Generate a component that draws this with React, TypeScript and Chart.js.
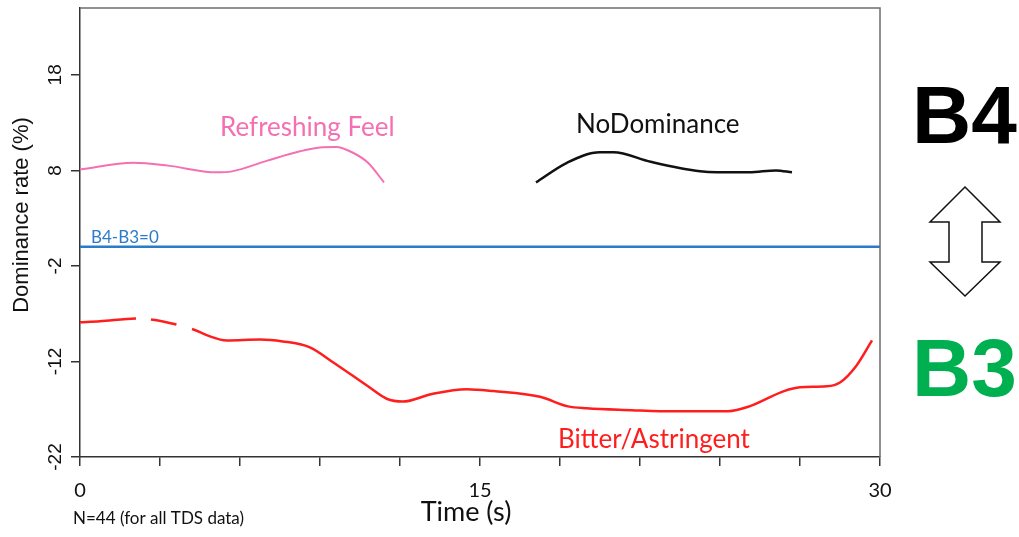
import React, { useEffect, useRef } from 'react';
import { Chart, registerables } from 'chart.js';

Chart.register(...registerables);

// Dominance rate curves (time in s, rate in %)
const refreshingTime = [0, 2.0, 3.3, 5.1, 5.7, 7.0, 8.25, 9.0, 9.6, 10.2, 10.8, 11.4];
const refreshingRate = [8.1, 8.8, 8.5, 7.8, 7.9, 9.0, 10.0, 10.4, 10.45, 9.9, 8.8, 6.75];

const noDominanceTime = [17.1, 18.26, 19.5, 20.0, 21.4, 23.25, 23.9, 25.1, 26.1, 26.7];
const noDominanceRate = [6.75, 8.8, 9.9, 9.9, 8.9, 7.9, 7.8, 7.8, 8.0, 7.8];

const bitterTime = [0, 0.75, 2.1, 4.2, 4.8, 5.5, 6.75, 7.6, 8.6, 9.5, 10.8, 11.5, 12.1, 13.2, 14.5, 15.5, 17.25, 18.3, 19.0, 20.7, 21.75, 24.3, 25.1, 26.4, 27.0, 28.0, 28.5, 29.1, 29.7];
const bitterRate = [-7.9, -7.8, -7.5, -8.6, -9.3, -9.8, -9.7, -9.9, -10.5, -12.1, -14.6, -15.9, -16.2, -15.4, -14.9, -15.1, -15.7, -16.7, -16.9, -17.1, -17.2, -17.2, -16.7, -15.1, -14.7, -14.6, -14.2, -12.5, -9.8];
// the stretch of the bitter curve starting here is drawn broken
const bitterBrokenFrom = 2.1;

// B4 - B3 = 0 reference line
const baselineTime = [0, 30];
const baselineRate = [0, 0];

const xTickValues = [0, 3, 6, 9, 12, 15, 18, 21, 24, 27, 30];
const xLabelledTicks = [0, 15, 30];
const yTickValues = [-22, -12, -2, 8, 18];

const toPoints = (xs: number[], ys: number[]) => xs.map((x, i) => ({ x, y: ys[i] }));

const PINK = '#F56FB3';
const RED = '#FF1E1E';
const BLUE = '#2C7BCB';
const GREEN = '#00B050';

const overlay = {
  id: 'overlay',
  afterDraw(chart: any) {
    const { ctx, chartArea: a } = chart;
    const yScale = chart.scales.y;
    ctx.save();

    // top and right edges of the plot frame
    ctx.strokeStyle = '#6e6e6e';
    ctx.lineWidth = 1.5;
    ctx.beginPath();
    ctx.moveTo(a.left, a.top);
    ctx.lineTo(a.right, a.top);
    ctx.lineTo(a.right, a.bottom);
    ctx.stroke();

    // rotated y tick labels, read bottom to top
    ctx.fillStyle = '#111';
    ctx.font = '19px "Liberation Sans"';
    ctx.textAlign = 'center';
    ctx.textBaseline = 'middle';
    for (const t of yScale.ticks) {
      const py = yScale.getPixelForValue(t.value);
      ctx.save();
      ctx.translate(a.left - 24, py);
      ctx.rotate(-Math.PI / 2);
      ctx.fillText(String(t.value), 0, 0);
      ctx.restore();
    }

    // curve labels
    ctx.font = '26px Lato';
    ctx.fillStyle = PINK;
    ctx.textAlign = 'left';
    ctx.fillText('Refreshing Feel', 220, 128);
    ctx.fillStyle = '#111';
    ctx.fillText('NoDominance', 576, 125);
    ctx.fillStyle = RED;
    ctx.fillText('Bitter/Astringent', 558, 440);

    ctx.font = '17px Lato';
    ctx.fillStyle = BLUE;
    ctx.fillText('B4-B3=0', 91, 238);

    // axis titles and note
    ctx.fillStyle = '#111';
    ctx.font = '27px Lato';
    ctx.textAlign = 'center';
    ctx.fillText('Time (s)', 466, 512);

    ctx.font = '17px Lato';
    ctx.textAlign = 'left';
    ctx.fillText('N=44 (for all TDS data)', 73, 519);

    ctx.save();
    ctx.translate(22, 215);
    ctx.rotate(-Math.PI / 2);
    ctx.textAlign = 'center';
    ctx.font = '22px "Liberation Sans"';
    ctx.fillText('Dominance rate (%)', 0, 0);
    ctx.restore();

    // B4 / B3 side legend
    ctx.textBaseline = 'alphabetic';
    ctx.textAlign = 'left';
    ctx.font = 'bold 82px "Liberation Sans"';
    ctx.fillStyle = '#000';
    ctx.fillText('B4', 912, 143);
    ctx.fillStyle = GREEN;
    ctx.fillText('B3', 912, 396);

    // double-headed outline arrow
    ctx.beginPath();
    ctx.moveTo(965, 187);
    ctx.lineTo(1000, 222);
    ctx.lineTo(982, 222);
    ctx.lineTo(982, 262);
    ctx.lineTo(1000, 262);
    ctx.lineTo(965, 296);
    ctx.lineTo(930, 262);
    ctx.lineTo(949, 262);
    ctx.lineTo(949, 222);
    ctx.lineTo(930, 222);
    ctx.closePath();
    ctx.fillStyle = '#fff';
    ctx.fill();
    ctx.strokeStyle = '#111';
    ctx.lineWidth = 1.5;
    ctx.lineJoin = 'miter';
    ctx.stroke();

    ctx.restore();
  },
};

export default function App() {
  const canvasRef = useRef<HTMLCanvasElement | null>(null);

  useEffect(() => {
    if (!canvasRef.current) return;
    const chart = new Chart(canvasRef.current, {
      type: 'line',
      data: {
        datasets: [
          {
            label: 'B4-B3=0',
            data: toPoints(baselineTime, baselineRate),
            borderColor: BLUE,
            borderWidth: 2.5,
            pointRadius: 0,
          },
          {
            label: 'Refreshing Feel',
            data: toPoints(refreshingTime, refreshingRate),
            borderColor: PINK,
            borderWidth: 2,
            pointRadius: 0,
            cubicInterpolationMode: 'monotone',
          },
          {
            label: 'NoDominance',
            data: toPoints(noDominanceTime, noDominanceRate),
            borderColor: '#111',
            borderWidth: 2.5,
            pointRadius: 0,
            cubicInterpolationMode: 'monotone',
          },
          {
            label: 'Bitter/Astringent',
            data: toPoints(bitterTime, bitterRate),
            borderColor: RED,
            borderWidth: 2.5,
            pointRadius: 0,
            cubicInterpolationMode: 'monotone',
            segment: {
              borderDash: (c: any) => (c.p0.parsed.x === bitterBrokenFrom ? [0, 15, 26, 40] : undefined),
            },
          },
        ],
      },
      options: {
        responsive: false,
        animation: false,
        events: [],
        layout: { padding: { left: 0, top: 8, right: 139, bottom: 0 } },
        plugins: {
          legend: { display: false },
          tooltip: { enabled: false },
        },
        scales: {
          x: {
            type: 'linear',
            min: 0,
            max: 30,
            afterBuildTicks: (s: any) => {
              s.ticks = xTickValues.map((v) => ({ value: v }));
            },
            afterFit: (s: any) => {
              s.height = 80;
            },
            ticks: {
              autoSkip: false,
              minRotation: 0,
              maxRotation: 0,
              padding: 13,
              color: '#111',
              font: { family: 'Lato', size: 20 },
              callback: (v: any) => (xLabelledTicks.includes(Number(v)) ? String(v) : ''),
            },
            grid: { drawOnChartArea: false, drawTicks: true, tickLength: 9, color: '#333', lineWidth: 1.5 },
            border: { display: true, color: '#333', width: 1.5 },
          },
          y: {
            type: 'linear',
            min: -22,
            max: 25,
            afterBuildTicks: (s: any) => {
              s.ticks = yTickValues.map((v) => ({ value: v }));
            },
            afterFit: (s: any) => {
              s.width = 80;
            },
            ticks: { display: false },
            grid: { drawOnChartArea: false, drawTicks: true, tickLength: 9, color: '#333', lineWidth: 1.5 },
            border: { display: true, color: '#333', width: 1.5 },
          },
        },
      },
      plugins: [overlay],
    } as any);
    return () => chart.destroy();
  }, []);

  return (
    <div style={{ position: 'absolute', left: 0, top: 0, width: 1019, height: 537, background: '#fff' }}>
      <canvas ref={canvasRef} width={1019} height={537} />
    </div>
  );
}
